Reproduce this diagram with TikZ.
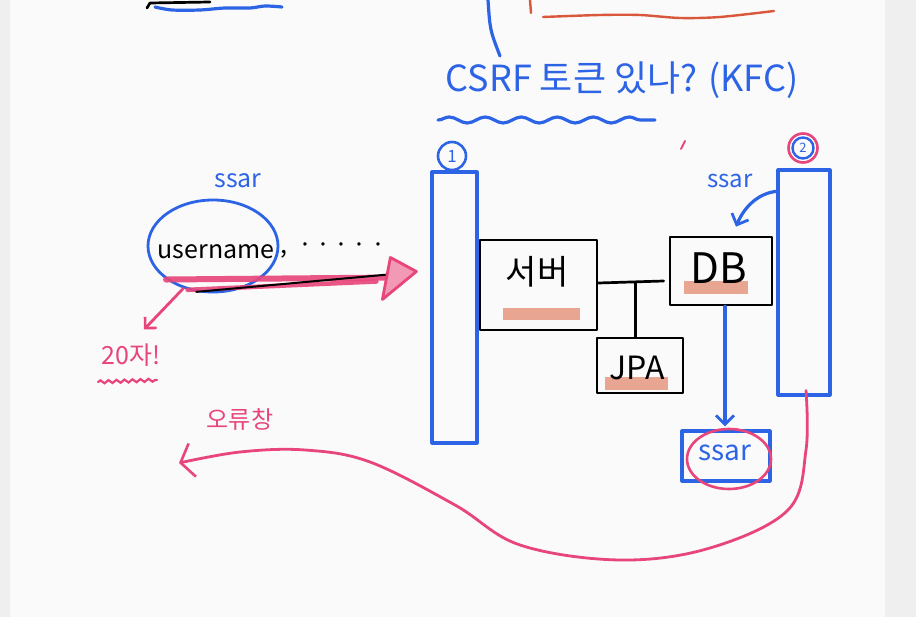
\documentclass[tikz,border=0pt]{standalone}
\usepackage{fontspec}
\setmainfont{Noto Sans CJK KR}
\usetikzlibrary{decorations.pathmorphing,arrows.meta,shapes.geometric,calc}
\definecolor{hblue}{HTML}{2D64E6}
\definecolor{hpink}{HTML}{E8457A}
\definecolor{hsalmon}{HTML}{E8A591}
\definecolor{horange}{HTML}{D9573B}
\definecolor{bgpaper}{HTML}{FAFAFA}
\definecolor{bgstrip}{HTML}{EFEFEF}
\begin{document}
\begin{tikzpicture}[x=1pt,y=-1pt,
  bline/.style={draw=hblue,line width=3.2pt,line cap=round,line join=round},
  pline/.style={draw=hpink,line width=2.8pt,line cap=round,line join=round},
  kline/.style={draw=black,line width=2.7pt,line cap=round,line join=round},
  colbox/.style={rectangle,bline,inner sep=0pt},
  kbox/.style={rectangle,kline,inner sep=0pt},
  hl/.style={fill=hsalmon},
  btext/.style={text=hblue,inner sep=0pt},
  ptext/.style={text=hpink,inner sep=0pt},
  ktext/.style={text=black,inner sep=0pt},
  barb/.style={-{Straight Barb[length=9pt,width=18pt,line width=2.8pt]}}
]
% paper
\fill[bgstrip] (0,0) rectangle (916,617);
\fill[bgpaper] (10,0) rectangle (885,617);
\useasboundingbox (0,0) rectangle (916,617);

% remnants at the top edge
\draw[kline] (147,8) -- (150,3) -- (210,2);
\draw[bline] plot[smooth] coordinates {(155,7) (172,10) (200,10) (225,8) (250,8) (265,6) (282,7)};
\draw[bline] (488,0) .. controls (490,30) .. (500,56);
\draw[draw=horange,line width=2.4pt,line cap=round] (530,0) -- (531,13);
\draw[draw=horange,line width=2.4pt,line cap=round] plot[smooth] coordinates {(543,17) (600,15) (640,15) (680,18) (720,17) (774,11)};

% title
\node[btext,font=\fontsize{36}{42}\selectfont] (title) at (622,80) {CSRF 토큰 있나? (KFC)};
\draw[bline,decorate,decoration={snake,amplitude=3pt,segment length=36pt}] (438,120) -- (655,120);
\draw[draw=hpink,line width=2pt,line cap=round] (681,149) -- (685,141);

% columns
\node[colbox,minimum width=45,minimum height=271] (col1) at (454.5,307.5) {};
\node[circle,draw=hblue,line width=2.6pt,minimum size=28,inner sep=0pt,text=hblue,font=\fontsize{17}{19}\selectfont] (c1) at (452,156) {1};
\node[colbox,minimum width=52,minimum height=225] (col2) at (804,282.5) {};
\node[circle,draw=hblue,line width=2.4pt,minimum size=21,inner sep=0pt,text=hblue,font=\fontsize{13}{15}\selectfont] (c2) at (803,148) {2};
\node[circle,draw=hpink,line width=2.6pt,minimum size=29,inner sep=0pt] (c2ring) at (803,148) {};

% highlights
\fill[hl] (503,308) rectangle (580,320);
\fill[hl] (684,281) rectangle (748,294);
\fill[hl] (605,377) rectangle (668,390);

% boxes
\node[kbox,minimum width=117,minimum height=90] (srv) at (538.5,285) {};
\node[ktext,font=\fontsize{34}{38}\selectfont] (srvt) at (537,272) {서버};
\node[kbox,minimum width=86,minimum height=55] (jpa) at (640,365.5) {};
\node[ktext,font=\fontsize{32}{36}\selectfont] (jpat) at (637,368) {JPA};
\node[kbox,minimum width=102,minimum height=68] (db) at (721,271) {};
\node[ktext,font=\fontsize{42}{46}\selectfont] (dbt) at (719,268) {DB};

% T connector
\coordinate (tj) at ($(srv.east)+(37,-2)$);
\draw[kline] ($(srv.east)+(0,-2)$) -- ($(db.west)+(-5,10)$);
\draw[kline] (tj) -- (tj |- jpa.north);

% ssar box
\node[rectangle,bline,minimum width=88,minimum height=50,inner sep=0pt] (ssarbox) at (726,456) {};
\node[btext,font=\fontsize{28}{32}\selectfont] (ssart) at (725,453) {ssar};
\node[ellipse,draw=hpink,line width=2.6pt,minimum width=84,minimum height=60,inner sep=0pt] (ssarring) at (729,459) {};
\draw[bline,barb] ($(db.south)+(4,0)$) -- ($(ssarbox.north)+(-1,-3)$);

% right ssar with curved arrow
\node[btext,font=\fontsize{24}{28}\selectfont] (rssar) at (730,181) {ssar};
\coordinate (rsrc) at ($(col2.north west)+(0,23)$);
\coordinate (rtip) at ($(db.north)+(15,-9)$);
\draw[bline,barb] (rsrc) .. controls (760,193) and (745,205) .. (rtip);

% left: username
\node[btext,font=\fontsize{25}{29}\selectfont] (lssar) at (238,181) {ssar};
\node[ellipse,draw=hblue,line width=2.8pt,minimum width=130,minimum height=92,inner sep=0pt] (user) at (213,246) {};
\node[ktext,font=\fontsize{25}{29}\selectfont] (usert) at (216,252) {username};
\node[ktext,font=\fontsize{25}{29}\selectfont,anchor=west] (dots) at (280,250) {,\ \ ·\,·\,·\,·\,·};

% main pink arrow to column 1
\coordinate (tgt) at ($(col1.west)+(-14,-36)$);
\draw[draw=hpink,line width=6pt,line cap=round,opacity=0.9] (user.south west) -- ($(tgt)+(-20,6)$);
\draw[draw=hpink,line width=4.5pt,line cap=round,opacity=0.9] (user.240) -- ($(tgt)+(-40,10)$);
\draw[draw=black,line width=2pt,line cap=round] (user.250) -- ($(tgt)+(-28,3)$);
\draw[draw=hpink,line width=2.8pt,line join=round,fill=hpink!55] (tgt) -- ($(tgt)+(-26,-14)$) -- ($(tgt)+(-34,28)$) -- cycle;

% 20자!
\node[ptext,font=\fontsize{25}{29}\selectfont] (twenty) at (131,355) {20자!};
\coordinate (ttip) at ($(twenty.north)+(13,-14)$);
\draw[pline,-{Straight Barb[length=8pt,width=16pt,line width=2.6pt]}] (user.235) -- (ttip);
\draw[draw=hpink,line width=2.2pt,line cap=round,decorate,decoration={snake,amplitude=1.5pt,segment length=8pt}] (98,382) -- (157,380);

% error window
\node[ptext,font=\fontsize{24}{28}\selectfont] (err) at (240,419) {오류창};
\coordinate (pstart) at ($(col2.south)+(2,-6)$);
\coordinate (pend) at (179,463);
\draw[pline,-{Straight Barb[length=12pt,width=34pt,line width=2.6pt]}] plot[smooth,tension=0.6] coordinates {(pstart) (806,450) (788,510) (710,548) (620,560) (520,545) (455,505) (370,462) (305,450) (240,452) (pend)};
\end{tikzpicture}
\end{document}
